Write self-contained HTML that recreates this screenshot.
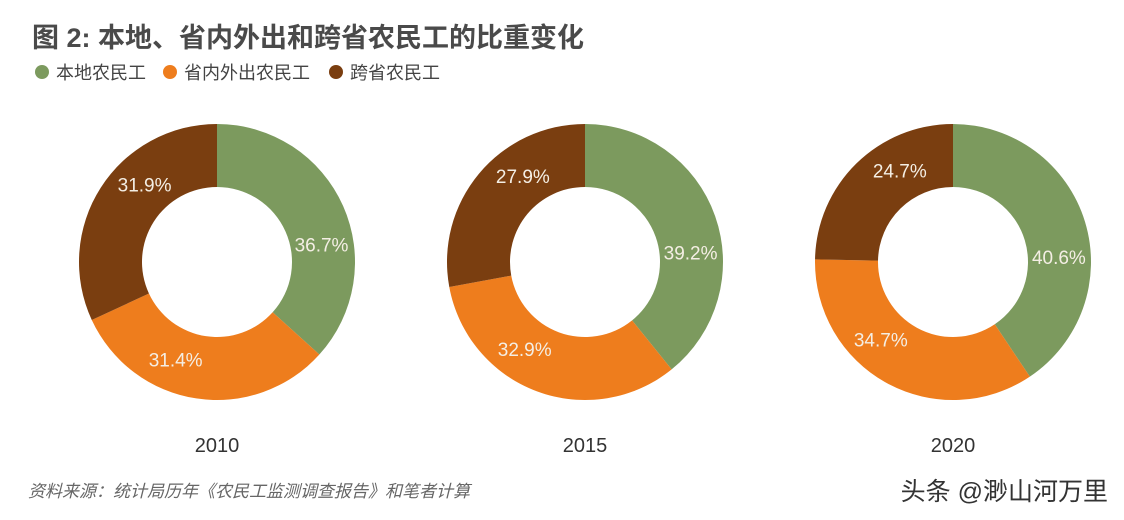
<!DOCTYPE html>
<html><head><meta charset="utf-8">
<style>
body{margin:0;width:1124px;height:520px;background:#fff;overflow:hidden;font-family:"Liberation Sans","Noto Sans CJK SC",sans-serif;}
svg{position:absolute;left:0;top:0}
</style></head><body>
<svg width="1124" height="520" id="c">
<text x="32" y="47" font-size="27" font-weight="bold" fill="#4a4a4a">图 2: 本地、省内外出和跨省农民工的比重变化</text>
<g>
<circle cx="42" cy="72" r="7" fill="#7c9a5e"/>
<text x="56" y="79" font-size="18" fill="#444">本地农民工</text>
<circle cx="170" cy="72" r="7" fill="#ee7d1d"/>
<text x="184" y="79" font-size="18" fill="#444">省内外出农民工</text>
<circle cx="336" cy="72" r="7" fill="#7a3e10"/>
<text x="350" y="79" font-size="18" fill="#444">跨省农民工</text>
</g>
<text x="28" y="497" font-size="17" font-style="italic" fill="#666">资料来源：统计局历年《农民工监测调查报告》和笔者计算</text>
<text x="1108" y="500" font-size="25" fill="#333" text-anchor="end">头条 @渺山河万里</text>
</svg>
<script>
const years=["2010","2015","2020"];
const local=[36.7,39.2,40.6];
const intra=[31.4,32.9,34.7];
const inter=[31.9,27.9,24.7];
const colors=["#7c9a5e","#ee7d1d","#7a3e10"];
const names=["local","intra","inter"];
const svg=document.getElementById('c');
const NS="http://www.w3.org/2000/svg";
const cxs=[217,585,953], cy=262, R=138, r=75;
function pt(a,rad,cx){return [cx+rad*Math.sin(a),cy-rad*Math.cos(a)];}
years.forEach((y,i)=>{
  const vals=[local[i],intra[i],inter[i]];
  const tot=vals.reduce((a,b)=>a+b,0);
  let a0=0; const cx=cxs[i];
  vals.forEach((v,j)=>{
    const a1=a0+v/tot*2*Math.PI;
    const lg=(a1-a0)>Math.PI?1:0;
    const p1=pt(a0,R,cx),p2=pt(a1,R,cx),p3=pt(a1,r,cx),p4=pt(a0,r,cx);
    const p=document.createElementNS(NS,'path');
    p.setAttribute('d',`M${p1}A${R},${R} 0 ${lg} 1 ${p2}L${p3}A${r},${r} 0 ${lg} 0 ${p4}Z`);
    p.setAttribute('fill',colors[j]);
    
    
    svg.appendChild(p);
    const am=(a0+a1)/2+0.25; const lp=pt(am,106,cx);
    const t=document.createElementNS(NS,'text');
    t.setAttribute('x',lp[0]);t.setAttribute('y',lp[1]+7);
    t.setAttribute('text-anchor','middle');t.setAttribute('font-size','19');t.setAttribute('fill','#f4eee4');
    t.textContent=v.toFixed(1)+'%';
    
    
    svg.appendChild(t);
    a0=a1;
  });
  const yt=document.createElementNS(NS,'text');
  yt.setAttribute('x',cx);yt.setAttribute('y',452);yt.setAttribute('text-anchor','middle');
  yt.setAttribute('font-size','20');yt.setAttribute('fill','#333');yt.textContent=y;
  
  
  svg.appendChild(yt);
});
</script>
</body></html>
